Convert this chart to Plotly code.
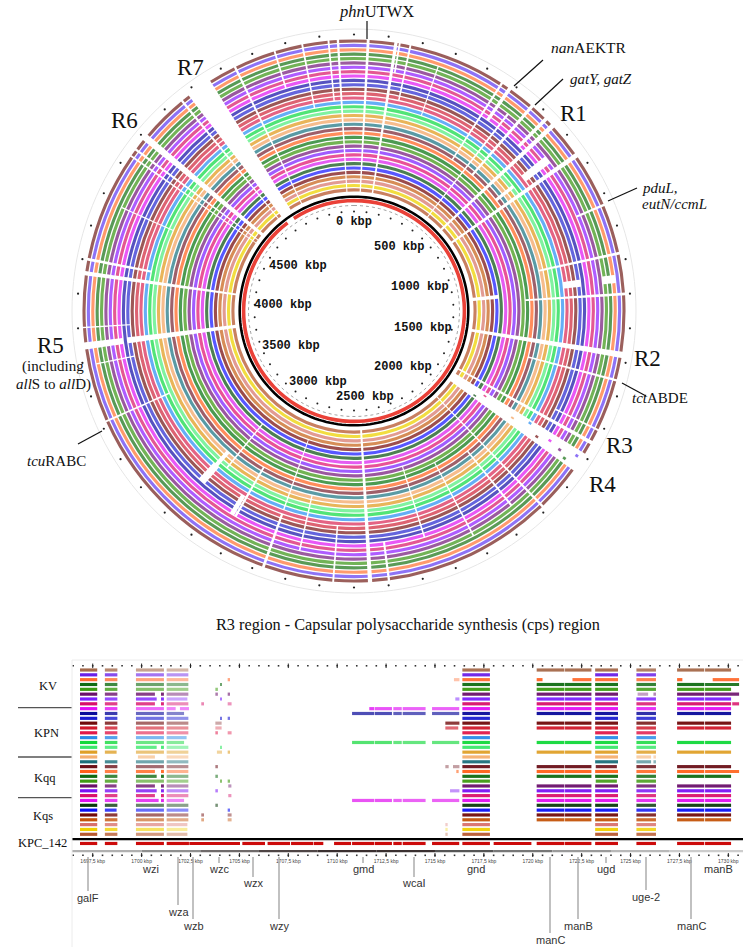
import plotly.graph_objects as go

W, H = 743, 951
CX, CY, RMAX = 354, 311, 300

ring_colors = ['#8b4540','#7b5cf5','#ff8a55','#3f8a3a','#5aa63a','#8a3f8f','#a040ff','#e03a80','#e53af5','#3a36b5',
               '#4a4ad8','#8c3a3a','#d8485a','#e0486f','#4aa0f5','#35e060','#6af090','#e5a93f','#f5b27a','#3f8a96',
               '#8f4550','#ff7a40','#2e8a35','#5aa635','#8a3a90','#9040ff','#e53585','#e040f0','#2f6b35','#3a3aff',
               '#8c3030','#d07a3a','#dd8a80','#f0d820','#c06a45']
row_colors = ['#a5694a','#6a1fe8','#ff6a2e','#0f6b12','#3a9a0f','#6a0f6a','#7a1fff','#d80f6a','#e010f5','#0a0a9a',
              '#1a1ad0','#700a0a','#d0182a','#e0184a','#2a8ae8','#12d83a','#3ae86a','#dfa028','#f5b070','#1a6f7a',
              '#6a1018','#ff6018','#0f6a12','#3f9a12','#6a0f6a','#7a10f5','#d80f6a','#e010f0','#0a3a0a','#0a10f5',
              '#700a0a','#c4540a','#d8706a','#f0d000','#b85a30']

# Circular map: radial gaps as (angle, width, first ring, last ring); ring 0 is the outermost
ring_gaps = [
    (-34.75,5.5,0,34),(-39.3,.5,0,34),(-50.25,1.5,0,34),(-53.5,.5,0,34),(-55.2,.4,0,34),(-26,.5,0,34),(-17,.4,0,8),
    (-11,.4,0,14),(-5.4,.4,0,13),(-3.4,.5,0,34),(3.0,.6,0,34),(8.9,.7,0,34),(9.7,.4,0,6),(12,.4,0,12),(19,.3,3,14),
    (33,.5,0,20),(35,.8,0,8),(38,.5,5,34),(41,.7,0,20),(45,.8,0,8),(47,1.0,0,34),(52,2,6,12),(52,1,16,20),(55,1.0,0,34),
    (67,.5,0,6),(77.7,.6,0,18),(83,1.8,2,4),(83,1.8,10,13),(84.4,1.5,29,34),(86.4,.6,0,22),(99.3,1.3,0,34),
    (104.8,.5,0,20),(116,.4,0,10),(119,.8,0,34),(123.85,4.3,0,34),(136,.5,0,34),(141,.5,5,20),(152,.4,4,22),
    (162.7,.4,8,24),(172.6,.5,0,8),(176.6,.9,0,34),(184.4,.4,0,12),(192.8,.4,6,18),(199.5,.6,0,12),(199.5,.4,14,30),
    (210,.6,8,20),(211,1.2,8,12),(219,.5,16,28),(221.8,2,10,14),(221.8,1.2,15,18),(246,.4,0,15),
    (-101.6,.3,2,10),(-97.4,1.5,0,8),(-97.4,1.5,10,34),(-93.5,.3,0,10),(-82,.9,0,34),(-79,.6,0,14),(-66,.3,4,16),
]
# Isolated hits left inside the R4 gap: (ring, angle)
gap_hits = [(1,123),(5,124),(8,123.5),(11,124.5),(18,124),(26,123),(28,125),(3,125),(14,122.5)]

red_ring_gaps = [(-35,4,0,0)]
ring_tick_kbp = list(range(0, 5000, 100))
genome_kbp = 5000

kbp_labels = ['0 kbp','500 kbp','1000 kbp','1500 kbp','2000 kbp','2500 kbp','3000 kbp','3500 kbp','4000 kbp','4500 kbp']
kbp_label_px = [(354,222),(399,247),(420,287),(423,328),(403,367),(365,397),(318,382),(291,346),(283,305),(298,266)]

# Linear panel blocks, kbp
blocks = {
 'g1':(1696.85,1697.73,1.0),'g2':(1698.12,1698.76,.8),'g2s':(1698.12,1698.72,.8),
 'g3':(1699.71,1701.14,.62),'g3a':(1699.71,1700.68,.8),'g3c':(1699.71,1700.77,.8),'g3d':(1699.71,1700.87,.8),
 'g3e':(1699.81,1700.68,.6),'g3b':(1700.99,1701.14,.9),
 'g4':(1701.28,1702.39,.48),'g4a':(1701.28,1702.17,.5),'g4b':(1701.28,1702.30,.5),'g4c':(1701.28,1702.34,.4),
 'g4d':(1701.28,1701.74,.5),'g4e':(1701.96,1702.42,.5),
 's605':(1703.05,1703.19,.5),'s647':(1703.77,1703.90,.55),'s660':(1704.01,1704.11,.6),'s683':(1704.40,1704.52,.6),
 's685':(1704.43,1704.59,.45),'s683w':(1704.40,1704.60,.45),'s646w':(1703.77,1704.09,.35),'s651w':(1703.85,1704.11,.45),
 'm1':(1710.76,1711.9,.72),'m1b':(1711.64,1711.9,.8),'m2':(1711.93,1712.8,.72),'m3':(1712.87,1713.3,.65),
 'm4':(1713.35,1714.52,.65),'m5':(1714.85,1716.24,.65),
 't252':(1715.97,1716.25,.4),'t256':(1716.04,1716.25,.5),'t226':(1715.53,1716.25,.8),'t226b':(1715.53,1716.19,.65),
 't226c':(1715.53,1715.70,.4),'t249':(1715.92,1716.25,.4),'t259':(1716.09,1716.21,.6),'t240':(1715.77,1716.25,.45),
 't226d':(1715.53,1715.65,.35),
 'gnd':(1716.4,1717.81,.95),
 'g6a':(1720.2,1721.62,.95),'g6b':(1721.65,1723.0,.95),'g6p':(1720.2,1720.5,1.0),'g6q':(1722.03,1723.0,.95),
 'g7':(1723.19,1724.36,.95),'g7s':(1723.22,1724.3,.9),
 'g8':(1725.3,1726.3,.85),'g8a':(1725.3,1726.05,.6),'g8b':(1726.17,1726.3,.5),'g8c':(1725.36,1725.9,.4),
 'g9a':(1727.38,1728.77,.95),'g9b':(1728.81,1730.14,.95),'g9c':(1728.81,1730.55,.9),'g9p':(1727.38,1727.65,1.0),
 'g9q':(1729.2,1730.55,.95),'g9r':(1730.2,1730.55,.85),
}
F = ['g1','g2','g3','g4']
E = ['gnd','g6a','g6b','g7','g8','g9a','g9b']
N = ['gnd','g7','g8']
M = ['m1','m2','m3','m4','m5']
M1 = ['m1b','m2','m3','m4','m5']
rows = [
 F+E,
 F+['gnd','g7','g8'],
 F+['s683','t252','gnd','g6p','g6q','g7','g8','g9p','g9q'],
 F+['s660','gnd','g6a','g6b','g7','g8','g9a','g9c'],
 F+['s647']+E,
 ['g1','g2','g3a','g3b','g4','s647','s683','gnd','g6a','g6b','g7','g8c','g8b','g9a','g9c'],
 ['g1','g2','g3c','g3b','g4c','s660','t256']+E,
 ['g1','g2','g3a','g3b','g4','s605','s683w']+E+['g9r'],
 ['g1','g2','g3','g4d','g4e']+M1+E,
 ['g1','g2','g3','g4a']+M+E,
 F+['s660','s683']+N,
 F+['s646w','t226']+E,
 F+['s646w','t226b']+E,
 F+['s647','s683w']+N,
 ['g1','g2','g3','g4b']+N,
 ['g1','g2','g3','g4a']+M+E,
 ['g1','g2','g3c','g3b','g4','s660']+N,
 ['g1','g2s','g3','g4','s651w','s683']+E,
 ['g1','g3e','g4','gnd','g7','g8a','g8b'],
 ['g1','g2','g3','g4','gnd','g7','g8a','g8b'],
 F+['s647','t226c','t249','gnd','g6a','g6b','g7s','g8','g9a','g9b'],
 ['g1','g2','g3a','g3b','g4','t259','gnd','g6a','g6b','g7','g8','g9a','g9c'],
 ['g1','g2','g3c','g3b','g4','s647']+E,
 F+['s660','s683','gnd','g7s','g8'],
 ['g1','g2s','g3a','g3b','g4','s685']+E,
 ['g1','g2','g3c','g3b','g4','s647','t240']+E,
 ['g1','g2','g3a','g3b','g4','s685']+E,
 ['g1','g2','g3d','g3b','g4a']+M+E,
 F+['s647']+E,
 ['g1','g2s','g3','g4','s683']+E,
 F+['s605','s683w']+E,
 F+['s605','s683w']+E,
 ['g1','g2','g3','g4c','t226d']+N,
 ['g1','g2','g3','g4c','t226d']+N,
 ['g1','g2','g3','g4c','t226d']+N,
]
kpc_starts = [1696.85,1698.12,1699.71,1701.28,1702.44,1705.15,1706.44,1707.64,1708.81,1709.84,1710.76,1711.93,1712.87,1713.35,1714.85,1716.4,1718.0,1720.2,1721.65,1723.19,1725.3,1727.38,1728.81]
kpc_ends   = [1697.73,1698.76,1701.14,1702.42,1705.03,1706.31,1707.59,1708.78,1709.29,1710.71,1711.9,1712.8,1713.3,1714.52,1716.24,1717.81,1719.93,1721.62,1723.0,1724.36,1726.3,1728.77,1730.14]

grad_stops = [1696.44,1700,1703,1706,1709,1712,1715,1718,1721,1724,1727,1730.75]
grad_cols  = ['#b0b0b0','#8f8f8f','#6f6a6a','#4f4545','#3a2f2f','#3a3030','#555555','#777777','#9a9a9a','#b8b8b8','#cccccc']

tick_vals = [1697.5,1700,1702.5,1705,1707.5,1710,1712.5,1715,1717.5,1720,1722.5,1725,1727.5,1730]
tick_text = ['1697,5 kbp','1700 kbp','1702,5 kbp','1705 kbp','1707,5 kbp','1710 kbp','1712,5 kbp','1715 kbp','1717,5 kbp','1720 kbp','1722,5 kbp','1725 kbp','1727,5 kbp','1730 kbp']
minor_ticks = [1696.5+0.5*k for k in range(69)]

genes = ['galF','wzi','wza','wzb','wzc','wzx','wzy','gmd','wcaI','gnd','manC','manB','ugd','uge-2','manC','manB']
gene_text_px = [(88,898),(150,869),(178,912),(193,926),(219,869),(253,883),(279,926),(363,869),(414,883),(476,869),(550,940),(578,926),(606,869),(646,897),(691,926),(718,869)]
gene_line_end = [891,None,905,919,863,877,919,863,877,None,933,919,863,890,919,None]

group_labels = ['KV','KPN','Kqq','Kqs','KPC_142']
group_label_px = [(48,686),(46,733),(45,778),(43,816),(42,843)]
group_rule_y = [707.7,757,797.7]

map_labels = [
 ('<i>phn</i>UTWX',377,11,16.5,'center'),('<i>nan</i>AEKTR',589,47,15.5,'center'),('<i>gatY, gatZ</i>',568,79,15,'left'),
 ('R1',573,113,23,'center'),('<i>pduL,</i>',640,188,15,'left'),('<i>eutN/ccmL</i>',640,204,15,'left'),
 ('R2',647,358,23,'center'),('<i>tct</i>ABDE',630,398,15,'left'),('R3',619,445,23,'center'),('R4',602,484,23,'center'),
 ('R5',50,346,23,'center'),('(including',53,366,15,'center'),('<i>all</i>S to <i>all</i>D)',53,385,15,'center'),
 ('<i>tcu</i>RABC',25,461,15,'left'),('R6',125,121,23,'center'),('R7',190,67,23,'center'),
]
map_leaders = [((367,21),(367,39)),((543,60),(514,86)),((563,79),(535,105)),((637,188),(608,201)),((622,383),(646,396)),((102,431),(78,444))]

def px(x): return x / W
def py(y): return 1 - y / H

def arcs(gaps):
    """Turn a gap table into bar centres and widths covering the rest of the circle."""
    iv = sorted(((a - w / 2) % 360, w) for a, w in gaps)
    merged = []
    for s, w in iv:
        e = s + w
        if merged and s <= merged[-1][1]:
            merged[-1][1] = max(merged[-1][1], e)
        else:
            merged.append([s, e])
    th, wd = [], []
    for k, (s, e) in enumerate(merged):
        nxt = merged[(k + 1) % len(merged)][0] + (360 if k == len(merged) - 1 else 0)
        if nxt > e:
            th.append((e + nxt) / 2)
            wd.append(nxt - e)
    return th, wd

fig = go.Figure()

R0, DR, RW = 270.0, 4.38, 3.1
for i, col in enumerate(ring_colors):
    th, wd = arcs([(a, w) for a, w, r0, r1 in ring_gaps if r0 <= i <= r1])
    for r, a in gap_hits:
        if r == i:
            th.append(a); wd.append(.6)
    rc = R0 - DR * i
    fig.add_trace(go.Barpolar(theta=th, width=wd, r=[RW] * len(th), base=[rc - RW / 2] * len(th),
                              marker=dict(color=col, line=dict(width=0)), opacity=.85,
                              hoverinfo='skip', showlegend=False, subplot='polar'))

th, wd = arcs([(a, w) for a, w, _, _ in red_ring_gaps])
fig.add_trace(go.Barpolar(theta=th, width=wd, r=[3.6] * len(th), base=[108.6] * len(th),
                          marker=dict(color='#ea4138', line=dict(width=0)), hoverinfo='skip', showlegend=False, subplot='polar'))

circle_deg = list(range(0, 362, 2))
for r, col, lw, dash in [(114.3, '#000000', 2.6, 'solid'), (105.5, '#8a8a8a', .8, 'dot'), (282, '#e6e6e6', 1.0, 'solid')]:
    fig.add_trace(go.Scatterpolar(theta=circle_deg, r=[r] * len(circle_deg), mode='lines',
                                  line=dict(color=col, width=lw, dash=dash), hoverinfo='skip', showlegend=False, subplot='polar'))
tick_deg = [k * 360 / genome_kbp for k in ring_tick_kbp]
for r, sz in [(276.5, 2.2), (99.5, 2.0)]:
    fig.add_trace(go.Scatterpolar(theta=tick_deg, r=[r] * len(tick_deg), mode='markers',
                                  marker=dict(color='#222222', size=sz, line=dict(width=0)), hoverinfo='skip', showlegend=False, subplot='polar'))

BARW = .66
for i, names in enumerate(rows):
    vals = [blocks[n] for n in names]
    fig.add_trace(go.Bar(orientation='h', y=[i] * len(vals), base=[v[0] for v in vals], x=[v[1] - v[0] for v in vals],
                         width=BARW, marker=dict(color=row_colors[i], opacity=[v[2] for v in vals], line=dict(width=0)),
                         hoverinfo='skip', showlegend=False))

XMIN, XMAX = 1696.44, 1730.75
fig.add_trace(go.Bar(orientation='h', y=[35], base=[XMIN], x=[XMAX - XMIN], width=.42,
                     marker=dict(color='#000000', line=dict(width=0)), hoverinfo='skip', showlegend=False))
fig.add_trace(go.Bar(orientation='h', y=[35.9] * len(kpc_starts), base=kpc_starts, x=[e - s for s, e in zip(kpc_starts, kpc_ends)],
                     width=.66, marker=dict(color='#cc0a0a', line=dict(width=0)), hoverinfo='skip', showlegend=False))
for a, b, c in zip(grad_stops[:-1], grad_stops[1:], grad_cols):
    fig.add_trace(go.Scatter(x=[a, b], y=[37.5, 37.5], mode='lines', line=dict(color=c, width=2.2),
                             hoverinfo='skip', showlegend=False))
for yv in (-0.87, 38.35):
    major = [t for t in minor_ticks if abs((t / 2.5) - round(t / 2.5)) < 1e-6]
    fig.add_trace(go.Scatter(x=minor_ticks, y=[yv] * len(minor_ticks), mode='markers',
                             marker=dict(color='#333333', size=1.6, symbol='square', line=dict(width=0)), hoverinfo='skip', showlegend=False))
    fig.add_trace(go.Scatter(x=major, y=[yv] * len(major), mode='markers',
                             marker=dict(color='#222222', size=3.2, symbol='line-ns', line=dict(width=1, color='#222222')), hoverinfo='skip', showlegend=False))

ann, shp = [], []
def text(t, x, y, size, fam, anchor='center', color='#111111'):
    ann.append(dict(text=t, x=px(x), y=py(y), xref='paper', yref='paper', xanchor=anchor, yanchor='middle', showarrow=False,
                    font=dict(size=size, family=fam, color=color)))
def line(x0, y0, x1, y1, color, width):
    shp.append(dict(type='line', xref='paper', yref='paper', x0=px(x0), y0=py(y0), x1=px(x1), y1=py(y1), line=dict(color=color, width=width)))

SERIF = 'Liberation Serif'
for t, (x, y) in zip(kbp_labels, kbp_label_px):
    text('<b>%s</b>' % t, x, y, 12, 'Liberation Mono')
for t, x, y, s, a in map_labels:
    text(t, x, y, s, SERIF, a)
for (a, b) in map_leaders:
    line(a[0], a[1], b[0], b[1], '#111111', 1.2)
text('R3 region - Capsular polysaccharide synthesis (cps) region', 408, 624, 16.3, SERIF)
for t, (x, y) in zip(group_labels, group_label_px):
    text(t, x, y, 12.5, SERIF)
for y in group_rule_y:
    line(18, y, 72, y, '#555555', 1.3)
line(72, 660, 743, 660, '#ececec', 1)
line(72, 660, 72, 947, '#ececec', 1)
for t, (x, y), end in zip(genes, gene_text_px, gene_line_end):
    text(t, x, y, 11, 'Liberation Sans', color='#333333')
    if end:
        line(x, 857, x, end, '#a0a0a0', 1.3)

fig.update_layout(
    width=W, height=H, margin=dict(l=0, r=0, t=0, b=0), paper_bgcolor='white', plot_bgcolor='rgba(0,0,0,0)',
    barmode='overlay', showlegend=False, annotations=ann, shapes=shp,
    polar=dict(domain=dict(x=[px(CX - RMAX), px(CX + RMAX)], y=[py(CY + RMAX), py(CY - RMAX)]), bgcolor='rgba(0,0,0,0)', barmode='overlay',
               radialaxis=dict(range=[0, RMAX], visible=False), angularaxis=dict(visible=False, direction='clockwise', rotation=90)),
    xaxis=dict(domain=[px(72), 1], range=[XMIN, XMAX], tickvals=tick_vals, ticktext=tick_text, ticks='', showgrid=False, zeroline=False,
               showline=False, tickfont=dict(size=5, family='Liberation Sans', color='#444444'), tickangle=0, ticklabelstandoff=0),
    yaxis=dict(domain=[py(857), py(660)], range=[38.7, -2.07], visible=False, showgrid=False, zeroline=False),
)
fig.write_html('out.html', config={'displayModeBar': False}, post_script="document.body.style.margin='0';")
